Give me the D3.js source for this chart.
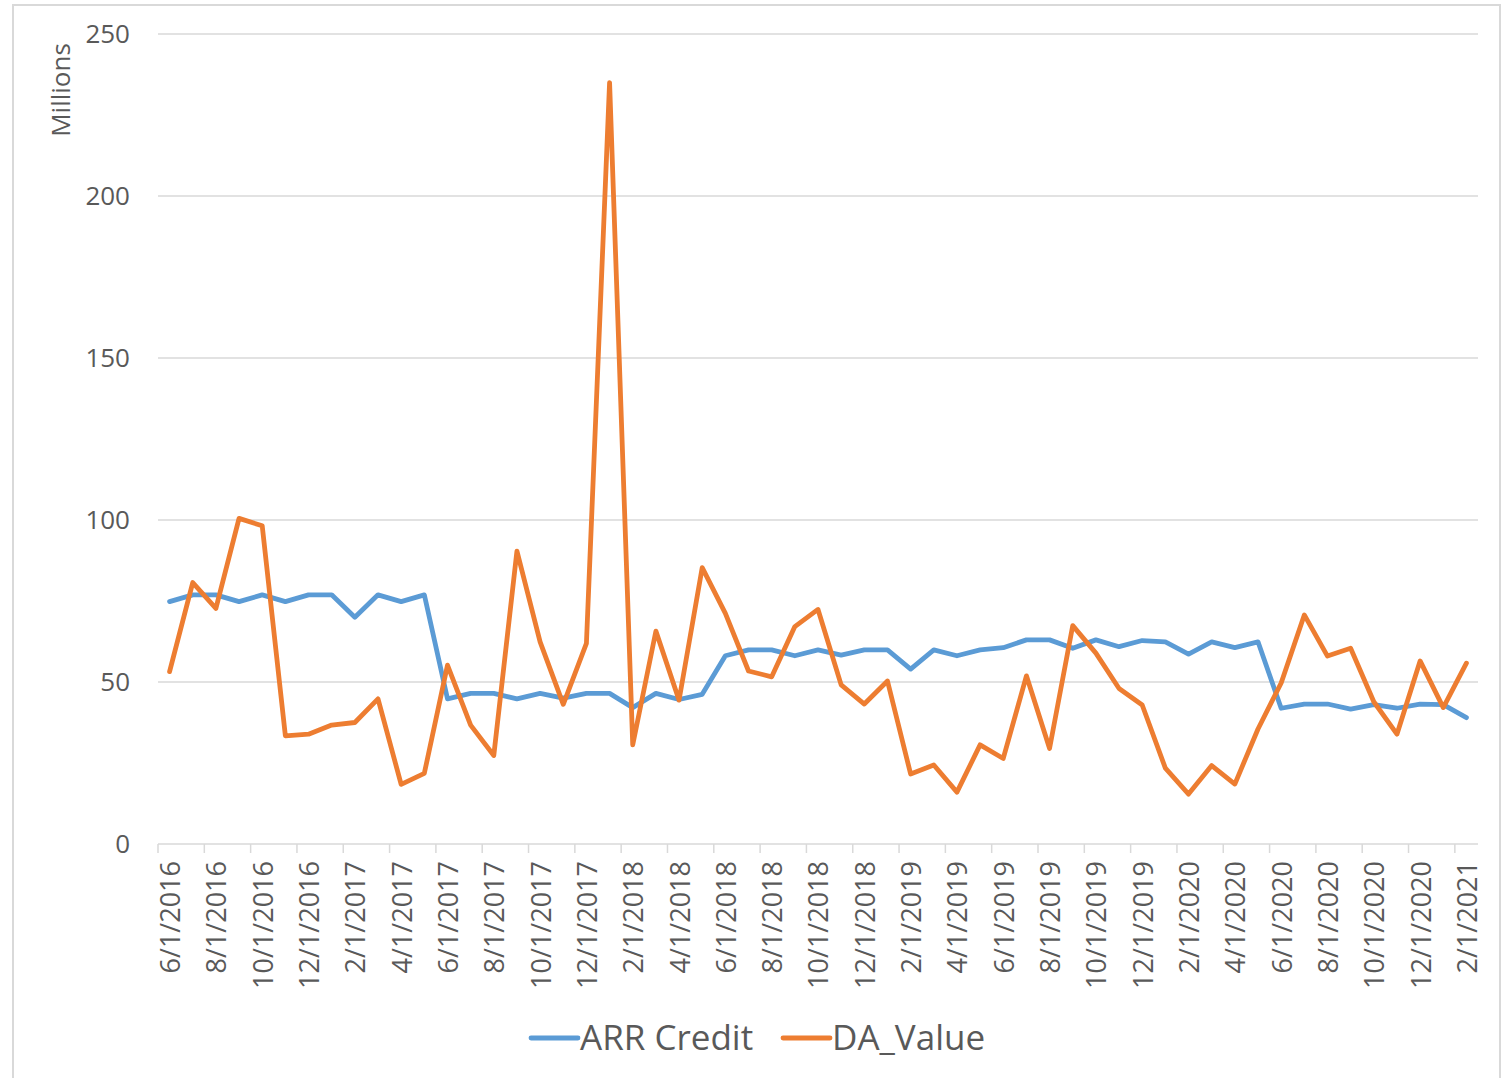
<!DOCTYPE html>
<html>
<head>
<meta charset="utf-8">
<script src="https://cdn.jsdelivr.net/npm/d3@7"></script>
<style>
  body { margin: 0; background: #fff; }
  svg { display: block; font-family: "Open Sans", sans-serif; }
</style>
</head>
<body>
<svg id="chart" width="1508" height="1078"></svg>
<script>
// monthly categories, 6/1/2016 .. 2/1/2021
var months = [];
for (var yr = 2016; yr <= 2021; yr++) {
	for (var m = 1; m <= 12; m++) {
		if (yr === 2016 && m < 6) continue;
		if (yr === 2021 && m > 2) continue;
		months.push(m + "/1/" + yr);
	}
}

// values in millions
var arrCredit = [74.8, 76.9, 76.9, 74.8, 76.9, 74.8, 76.9, 76.9, 70.0, 76.9,
	74.8, 76.9, 44.8, 46.5, 46.5, 44.8, 46.5, 45.0, 46.5, 46.5,
	42.1, 46.5, 44.6, 46.2, 58.1, 59.9, 59.9, 58.1, 59.9, 58.3,
	59.9, 59.9, 54.0, 59.9, 58.1, 59.9, 60.6, 63.0, 63.0, 60.4,
	63.0, 60.9, 62.8, 62.4, 58.6, 62.4, 60.6, 62.4, 41.9, 43.2,
	43.2, 41.6, 43.0, 41.9, 43.2, 43.0, 39.0];

var daValue = [53.2, 80.7, 72.7, 100.5, 98.2, 33.4, 33.9, 36.7, 37.5, 44.8,
	18.4, 21.8, 55.2, 36.7, 27.3, 90.4, 62.4, 43.1, 61.9, 235.0,
	30.6, 65.7, 44.4, 85.3, 71.2, 53.4, 51.6, 67.1, 72.4, 49.1,
	43.2, 50.3, 21.6, 24.4, 16.0, 30.6, 26.4, 51.9, 29.5, 67.4,
	58.9, 48.0, 42.9, 23.4, 15.4, 24.2, 18.5, 35.5, 49.7, 70.7,
	58.0, 60.4, 43.9, 33.9, 56.5, 42.1, 55.8];

var yTicks = [0, 50, 100, 150, 200, 250];
var seriesNames = ["ARR Credit", "DA_Value"];
var seriesColors = ["#5b9bd5", "#ed7d31"];

function drawChart () {

	var svg = d3.select("#chart");
	var textColor = "#595959", gridColor = "#d9d9d9";

	// chart frame
	svg.append("rect")
		.attr("x", 13).attr("y", 5)
		.attr("width", 1487).attr("height", 1078)
		.attr("fill", "#fff")
		.attr("stroke", gridColor)
		.attr("stroke-width", 2);

	// plot area edges
	var pLeft = 158, pRight = 1478, pTop = 34, pBottom = 844;

	var x = d3.scaleBand().domain(months).range([pLeft, pRight]).padding(0);
	var y = d3.scaleLinear().domain([0, 250]).range([pBottom, pTop]);
	var cx = function (i) { return x(months[i]) + x.bandwidth() / 2; };

	// gridlines
	svg.append("g").selectAll("line")
		.data(yTicks.filter(function (d) { return d > 0; }))
		.enter().append("line")
			.attr("x1", pLeft).attr("x2", pRight)
			.attr("y1", function (d) { return y(d); })
			.attr("y2", function (d) { return y(d); })
			.attr("stroke", gridColor)
			.attr("stroke-width", 1.5);

	// y labels
	var yAxis = svg.append("g")
		.attr("transform", "translate(" + (pLeft - 28) + ",0)")
		.call(d3.axisLeft(y).tickValues(yTicks).tickSize(0).tickPadding(0));
	yAxis.select(".domain").remove();
	yAxis.selectAll("text")
		.attr("fill", textColor)
		.style("font-size", "26px")
		.style("font-family", "Open Sans, sans-serif");

	svg.append("text")
		.attr("transform", "translate(70,90) rotate(-90)")
		.attr("text-anchor", "middle")
		.attr("fill", textColor)
		.style("font-size", "26px")
		.text("Millions");

	// x axis line + ticks at category boundaries
	svg.append("line")
		.attr("x1", pLeft).attr("x2", pRight)
		.attr("y1", pBottom).attr("y2", pBottom)
		.attr("stroke", gridColor).attr("stroke-width", 1.5);

	var evenMonths = months.filter(function (d, i) { return i % 2 === 0; });
	svg.append("g").selectAll("line")
		.data(evenMonths)
		.enter().append("line")
			.attr("x1", function (d) { return x(d); })
			.attr("x2", function (d) { return x(d); })
			.attr("y1", pBottom).attr("y2", pBottom + 9)
			.attr("stroke", gridColor).attr("stroke-width", 1.5);

	var xAxis = svg.append("g")
		.attr("transform", "translate(0," + pBottom + ")")
		.call(d3.axisBottom(x).tickValues(evenMonths).tickSize(0));
	xAxis.select(".domain").remove();
	xAxis.selectAll("text")
		.attr("transform", "rotate(-90)")
		.attr("x", -17).attr("y", 1).attr("dy", "0.35em")
		.attr("text-anchor", "end")
		.attr("fill", textColor)
		.style("font-size", "27px")
		.style("font-family", "Open Sans, sans-serif");

	// lines
	var line = d3.line()
		.x(function (d, i) { return cx(i); })
		.y(function (d) { return y(d); });

	[arrCredit, daValue].forEach(function (vals, k) {
		svg.append("path")
			.datum(vals)
			.attr("d", line)
			.attr("fill", "none")
			.attr("stroke", seriesColors[k])
			.attr("stroke-width", 4.8)
			.attr("stroke-linejoin", "round")
			.attr("stroke-linecap", "round");
	});

	// legend
	var legendX = [531, 783];
	seriesNames.forEach(function (name, k) {
		var g = svg.append("g").attr("transform", "translate(" + legendX[k] + ",1038)");
		g.append("line")
			.attr("x1", 0).attr("x2", 47)
			.attr("stroke", seriesColors[k])
			.attr("stroke-width", 4.8)
			.attr("stroke-linecap", "round");
		g.append("text")
			.attr("x", 49).attr("dy", "0.35em")
			.attr("fill", textColor)
			.style("font-size", "35px")
			.text(name);
	});
}

drawChart();
</script>
</body>
</html>
